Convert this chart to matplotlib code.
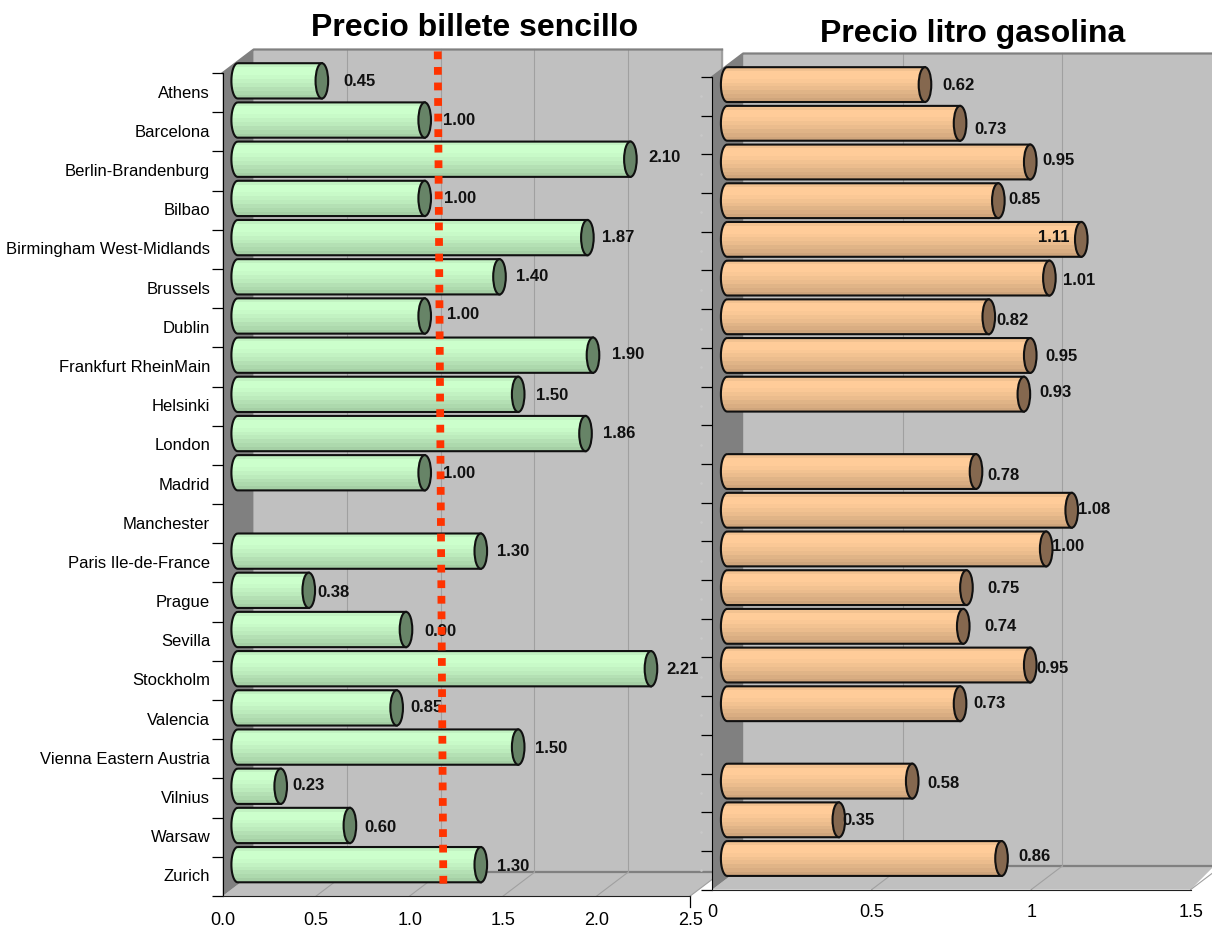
import matplotlib
matplotlib.use('Agg')
import matplotlib.pyplot as plt
import numpy as np
from matplotlib.patches import Ellipse, PathPatch, Polygon
from matplotlib.path import Path
from matplotlib.transforms import Affine2D

plt.rcParams['font.family'] = ['Liberation Sans', 'DejaVu Sans']

W, H = 1212, 927

ciudades = ['Athens', 'Barcelona', 'Berlin-Brandenburg', 'Bilbao', 'Birmingham West-Midlands',
            'Brussels', 'Dublin', 'Frankfurt RheinMain', 'Helsinki', 'London', 'Madrid',
            'Manchester', 'Paris Ile-de-France', 'Prague', 'Sevilla', 'Stockholm', 'Valencia',
            'Vienna Eastern Austria', 'Vilnius', 'Warsaw', 'Zurich']

billete = [0.45, 1.00, 2.10, 1.00, 1.87, 1.40, 1.00, 1.90, 1.50, 1.86, 1.00,
           None, 1.30, 0.38, 0.90, 2.21, 0.85, 1.50, 0.23, 0.60, 1.30]
gasolina = [0.62, 0.73, 0.95, 0.85, 1.11, 1.01, 0.82, 0.95, 0.93, None, 0.78,
            1.08, 1.00, 0.75, 0.74, 0.95, 0.73, None, 0.58, 0.35, 0.86]

# linea de la media, un poco inclinada por la perspectiva
media_x = [1.15, 1.18]
media_y = [-0.55, 20.8]

# desplazamiento de cada etiqueta respecto al final de la barra, en pixeles
gap_billete = [38, 34, 34, 35, 31, 33, 38, 35, 34, 34, 34, 0, 32, 25, 34, 32, 30, 33, 28, 31, 32]
alt_billete = [1, 2, 4, 2, 2, 2, 3, 3, 1, 2, 1, 0, 2, 0, 0, 1, 2, 1, 3, 0, 0]
gap_gasolina = [34, 30, 28, 26, 31, 30, 24, 31, 32, 0, 27, 22, 22, 37, 37, 22, 29, 0, 31, 20, 33]
alt_gasolina = [1, -4, 3, 3, 4, 0, -2, 1, 4, 0, -2, 3, 4, 1, 2, -1, 2, 0, 0, 1, 4]
# la etiqueta 1.11 va dentro de la barra
gap_gasolina[4] = -28

sombras = [0.95, 1.0, 1.0, 0.98, 0.95, 0.92, 0.88, 0.85, 0.81]

fig = plt.figure(figsize=(W / 100, H / 100), dpi=100)
px = Affine2D().scale(1 / W, -1 / H).translate(0, 1) + fig.transFigure


def chart(x0, x1, top, base, xmax, ticks, ticklabels, lab_pad, values, gaps, alts, color, tapa, wall_right, z,
          names=None):
    dx, dy = 31, -23.5
    pos = [x0 / W, 1 - base / H, (x1 - x0) / W, (base - top) / H]
    ax = fig.add_axes(pos, zorder=z)
    ax.patch.set_visible(False)
    ax.set_xlim(0, xmax)
    ax.set_ylim(len(ciudades), 0)

    # paredes y suelo
    back = Polygon([(x0 + dx, top + dy), (wall_right, top + dy), (wall_right, base + dy), (x0 + dx, base + dy)],
                   closed=True, fc='#c0c0c0', ec='none', transform=px, clip_on=False, zorder=0)
    floor = Polygon([(x0, base), (x0 + dx, base + dy), (wall_right, base + dy), (x1, base)],
                    closed=True, fc='#c0c0c0', ec='none', transform=px, clip_on=False, zorder=0)
    side = Polygon([(x0, top), (x0 + dx, top + dy), (x0 + dx, base + dy), (x0, base)],
                   closed=True, fc='#808080', ec='none', transform=px, clip_on=False, zorder=0.2)
    for p in (back, floor, side):
        ax.add_patch(p)
    ax.plot([x0, x0 + dx, wall_right], [top, top + dy, top + dy], color='#808080', lw=1.6, transform=px,
            clip_on=False, zorder=0.3)
    ax.plot([x0 + dx, wall_right], [base + dy, base + dy], color='#808080', lw=1.6, transform=px,
            clip_on=False, zorder=0.1)
    if wall_right - x1 < dx + 1:
        ax.plot([wall_right, wall_right], [top + dy, base + dy], color='#a0a0a0', lw=1, transform=px,
                clip_on=False, zorder=0.1)

    # rejilla sobre la pared y diagonales del suelo
    for t in ticks[1:]:
        xt = x0 + t / xmax * (x1 - x0)
        if xt + dx < wall_right:
            ax.plot([xt + dx, xt + dx], [top + dy, base + dy], color='#a0a0a0', lw=0.8, transform=px,
                    clip_on=False, zorder=0.1)
        ax.plot([xt, xt + dx], [base, base + dy], color='#a0a0a0', lw=0.8, transform=px,
                clip_on=False, zorder=0.1)

    for s in ('top', 'right'):
        ax.spines[s].set_visible(False)
    ax.spines['left'].set_color('black')
    ax.spines['bottom'].set_color('#202020')
    ax.set_xticks(ticks)
    ax.set_xticklabels(ticklabels, fontsize=13)
    ax.tick_params(axis='x', length=0, pad=lab_pad, colors='black')
    ax.set_yticks(np.arange(len(ciudades) + 1))
    ax.set_yticklabels([])
    ax.tick_params(axis='y', which='major', length=8, width=0.9)
    centros = np.arange(len(ciudades)) + 0.5
    if names:
        ax.set_yticks(centros, minor=True)
        ax.set_yticklabels(names, minor=True, fontsize=12)
        ax.tick_params(axis='y', which='minor', length=0, pad=9)
        for etiqueta in ax.get_yticklabels(minor=True):
            etiqueta.set_transform(etiqueta.get_transform() + Affine2D().translate(0, 1))
    else:
        ax.plot([-11 / (x1 - x0)] * len(centros), centros, ls='none', marker='s', ms=0.8, color='#c8c8c8',
                transform=ax.get_yaxis_transform(), clip_on=False)

    # las barras van en el plano medio de la profundidad
    bx = fig.add_axes([(x0 + dx / 2 - 0.5) / W, 1 - (base + dy / 2) / H, (x1 - x0) / W, (base - top) / H],
                      zorder=z + 1)
    bx.axis('off')
    bx.set_xlim(0, xmax)
    bx.set_ylim(len(ciudades), 0)

    escala = (x1 - x0) / xmax
    rx = 6.3 / escala
    alto = 0.9
    theta = np.linspace(np.pi / 2, 3 * np.pi / 2, 30)
    base_rgb = np.array(matplotlib.colors.to_rgb(color))
    for i, v in enumerate(values):
        if v is None:
            continue
        yc = i + 0.5
        xs = np.r_[rx * np.cos(theta), v, v, 0]
        ys = np.r_[yc - alto / 2 * np.sin(theta), yc + alto / 2, yc - alto / 2, yc - alto / 2]
        cuerpo = PathPatch(Path(np.c_[xs, ys]), fc='none', ec='none', clip_on=False)
        bx.add_patch(cuerpo)
        h = alto / len(sombras)
        for k, s in enumerate(sombras):
            franja = bx.barh(yc - alto / 2 + (k + 0.5) * h, v + rx, height=h * 1.03, left=-rx,
                             color=base_rgb * s, lw=0)[0]
            franja.set_clip_path(cuerpo)
            franja.set_clip_box(None)
        bx.add_patch(PathPatch(Path(np.c_[xs, ys]), fc='none', ec='#101010', lw=1.5, zorder=3, clip_on=False))
        bx.add_patch(Ellipse((v, yc), 2 * rx, alto, fc=tapa, ec='#101010', lw=1.5, zorder=4, clip_on=False))
        bx.annotate(f'{v:.2f}', (v, yc), xytext=(gaps[i], alts[i] - 2), textcoords='offset pixels',
                    ha='center', va='center', fontsize=12, fontweight='bold', color='#101010',
                    zorder=5, annotation_clip=False)
    return ax, bx


ax1, bx1 = chart(222.7, 690.2, 73, 896, 2.5, [0, 0.5, 1, 1.5, 2, 2.5], ['0.0', '0.5', '1.0', '1.5', '2.0', '2.5'],
                 11.5, billete, gap_billete, alt_billete, '#ccffcc', '#678467', 722, 1, names=ciudades)
ax2, bx2 = chart(712.2, 1190.7, 77, 889.6, 1.5, [0, 0.5, 1, 1.5], ['0', '0.5', '1', '1.5'],
                 10.5, gasolina, gap_gasolina, alt_gasolina, '#ffcc99', '#85684f', W + 2, 3)

# marca final del eje izquierdo
ax1.plot([690.2, 690.2], [896, 907], color='black', lw=0.9, transform=px, clip_on=False)

bx1.plot(media_x, media_y, color='#ff3300', lw=5.6, ls=(0, (1, 1)), dash_capstyle='butt',
         transform=ax1.transData, clip_on=False, zorder=6)

fig.text(475 / W, 1 - 28 / H, 'Precio billete sencillo', ha='center', va='center', fontsize=23, fontweight='bold')
fig.text(973 / W, 1 - 34 / H, 'Precio litro gasolina', ha='center', va='center', fontsize=23, fontweight='bold')

fig.savefig('out.png', dpi=100)
